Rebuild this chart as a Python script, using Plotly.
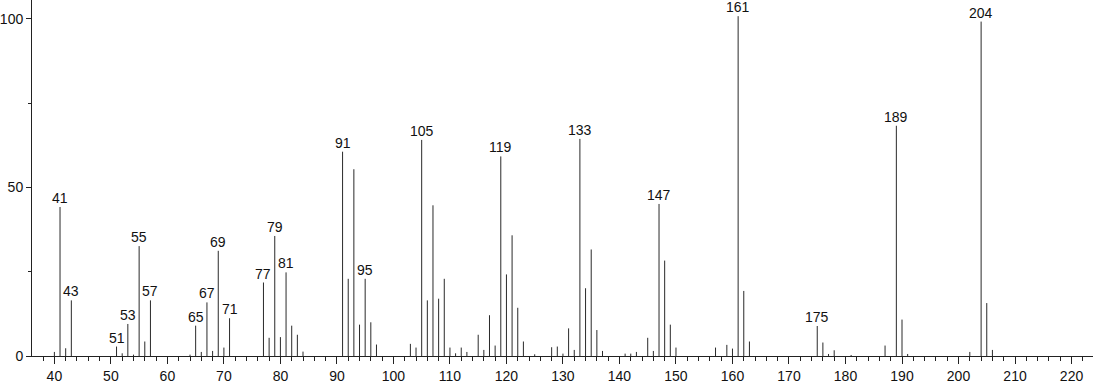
import plotly.graph_objects as go

mz = [40, 41, 42, 43, 51, 52, 53, 54, 55, 56, 57, 64, 65, 66, 67, 68, 69, 70, 71,
      77, 78, 79, 80, 81, 82, 83, 84, 91, 92, 93, 94, 95, 96, 97, 103, 104, 105,
      106, 107, 108, 109, 110, 111, 112, 113, 115, 116, 117, 118, 119, 120, 121,
      122, 123, 125, 128, 129, 130, 131, 132, 133, 134, 135, 136, 137, 141, 142,
      143, 145, 146, 147, 148, 149, 150, 157, 159, 160, 161, 162, 163, 175, 176,
      177, 178, 181, 187, 189, 190, 191, 202, 204, 205, 206]
intensity = [1.2, 44.2, 2.3, 16.5, 2.8, 0.8, 9.5, 0.4, 32.6, 4.3, 16.5, 0.4, 9.0,
             1.2, 15.9, 1.5, 31.2, 2.5, 11.2, 21.8, 5.4, 35.6, 5.6, 24.8, 9.0, 6.3,
             1.3, 60.6, 22.9, 55.4, 9.3, 22.9, 10.0, 3.4, 3.6, 2.5, 64.1, 16.5,
             44.7, 17.0, 22.9, 2.5, 0.8, 2.5, 1.2, 6.3, 1.8, 12.1, 3.1, 59.2, 24.2,
             35.8, 14.3, 4.3, 0.5, 2.6, 2.8, 0.7, 8.2, 1.8, 64.4, 20.1, 31.6, 7.7,
             1.5, 0.7, 0.7, 1.2, 5.4, 1.5, 45.1, 28.3, 9.3, 2.5, 2.5, 3.3, 2.2,
             100.8, 19.3, 4.3, 8.9, 4.0, 0.6, 1.7, 0.3, 3.1, 68.3, 10.8, 0.6, 1.2,
             99.2, 15.7, 1.8]
labeled = [41, 43, 51, 53, 55, 57, 65, 67, 69, 71, 77, 79, 81, 91, 95, 105, 119,
           133, 147, 161, 175, 189, 204]

xs, ys = [], []
for m, h in zip(mz, intensity):
    xs += [m, m, None]
    ys += [0, h, None]

fig = go.Figure()
fig.add_trace(go.Scatter(x=xs, y=ys, mode="lines",
                         line=dict(color="#2a2a2a", width=1),
                         hoverinfo="skip", showlegend=False))

lookup = dict(zip(mz, intensity))
for m in labeled:
    fig.add_annotation(x=m, y=lookup[m], text=str(m), showarrow=False,
                       yanchor="bottom", xanchor="center", yshift=-1,
                       font=dict(size=14, color="#111", family="Liberation Sans, Arial"))

fig.update_layout(
    width=1094, height=384,
    margin=dict(l=30, r=1, t=0, b=24),
    plot_bgcolor="white", paper_bgcolor="white",
    font=dict(family="Liberation Sans, Arial", size=14, color="#111"),
    xaxis=dict(range=[36.04, 223.8], showgrid=False, zeroline=False,
               showline=True, linecolor="#222", linewidth=1,
               ticks="outside", ticklen=7, tickcolor="#222", tickwidth=1,
               tick0=40, dtick=10,
               minor=dict(ticks="outside", ticklen=4, tickcolor="#222",
                          dtick=2, tick0=40, showgrid=False)),
    yaxis=dict(range=[0, 105.6], showgrid=False, zeroline=False,
               showline=True, linecolor="#222", linewidth=1,
               ticks="outside", ticklen=5, tickcolor="#222", tickwidth=1,
               tick0=0, dtick=50,
               minor=dict(ticks="outside", ticklen=3, tickcolor="#222",
                          dtick=25, showgrid=False)),
)

fig.write_html("out.html")
